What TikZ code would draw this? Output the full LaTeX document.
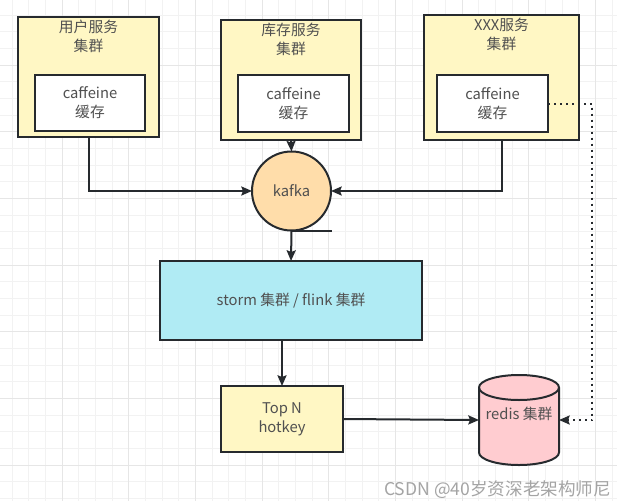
\documentclass[tikz,border=0pt]{standalone}
\usepackage{fontspec}
\setmainfont{Noto Sans CJK SC}
\usetikzlibrary{arrows.meta}
\definecolor{edge}{HTML}{262A2E}
\definecolor{txt}{HTML}{505050}
\definecolor{clusterfill}{HTML}{FFF7C4}
\definecolor{kafkafill}{HTML}{FFDDAA}
\definecolor{stormfill}{HTML}{B0EBF4}
\definecolor{redisfill}{HTML}{FFCCD0}
\definecolor{minorgrid}{HTML}{F2F2F2}
\definecolor{majorgrid}{HTML}{E6E6E6}
\definecolor{wmgrey}{HTML}{A4A4A4}
\tikzset{
    every node/.style={font=\fontsize{12.6}{16.2}\selectfont,text=txt},
    box/.style={draw=edge,line width=0.06cm,inner sep=0pt,outer sep=0pt,align=center},
    title/.style={anchor=north,align=center,inner sep=0pt},
    link/.style={draw=edge,line width=0.06cm},
    arr/.style={link,-{Stealth[length=0.32cm,width=0.27cm,inset=0.05cm]}},
    dotarr/.style={arr,dash pattern=on 0.06cm off 0.12cm}
}
\begin{document}
\begin{tikzpicture}[x=0.03cm,y=-0.03cm]
    \useasboundingbox (0,0) rectangle (617,501);
    \fill[white] (0,0) rectangle (617,501);
    \foreach \gx in {0,...,36} \draw[minorgrid,line width=0.03cm] ({12.3+16.667*\gx},0) -- ({12.3+16.667*\gx},501);
    \foreach \gy in {0,...,29} \draw[minorgrid,line width=0.03cm] (0,{15+16.667*\gy}) -- (617,{15+16.667*\gy});
    \foreach \gx in {0,...,8} \draw[majorgrid,line width=0.03cm] ({62.3+66.667*\gx},0) -- ({62.3+66.667*\gx},501);
    \foreach \gy in {0,...,6} \draw[majorgrid,line width=0.03cm] (0,{65+66.667*\gy}) -- (617,{65+66.667*\gy});

    \node[box,fill=clusterfill,minimum width=4.23cm,minimum height=3.6cm] (usercluster) at (88.5,77) {};
    \node[title] (usertitle) at ([yshift=-0.08cm]usercluster.north) {用户服务\\集群};
    \node[box,fill=white,minimum width=3.3cm,minimum height=1.68cm] (usercache) at (90,103) {caffeine\\缓存};

    \node[box,fill=clusterfill,minimum width=4.2cm,minimum height=3.6cm] (stockcluster) at (291,80) {};
    \node[title] (stocktitle) at ([yshift=-0.08cm]stockcluster.north) {库存服务\\集群};
    \node[box,fill=white,minimum width=3.33cm,minimum height=1.71cm] (stockcache) at (293.5,103.5) {caffeine\\缓存};

    \node[box,fill=clusterfill,minimum width=4.65cm,minimum height=3.75cm] (xxxcluster) at (501.5,77.5) {};
    \node[title] (xxxtitle) at ([yshift=-0.08cm]xxxcluster.north) {XXX服务\\集群};
    \node[box,fill=white,minimum width=3.33cm,minimum height=1.71cm] (xxxcache) at (492.5,103.5) {caffeine\\缓存};

    \node[box,circle,fill=kafkafill,minimum size=2.37cm] (kafka) at (291.5,191) {kafka};
    \node[box,fill=stormfill,minimum width=7.86cm,minimum height=2.37cm] (storm) at (291,300.5) {storm 集群 / flink 集群};
    \node[box,fill=clusterfill,minimum width=3.66cm,minimum height=1.98cm] (topn) at (282,419) {Top N\\hotkey};

    \node[inner sep=0pt,outer sep=0pt,minimum width=2.4cm,minimum height=2.7cm] (redis) at (519,420) {};
    \path[link,fill=redisfill] ([yshift=-0.375cm]redis.north west) -- ([yshift=0.375cm]redis.south west)
        arc[start angle=180,end angle=360,x radius=1.2cm,y radius=0.375cm]
        -- ([yshift=-0.375cm]redis.north east)
        arc[start angle=0,end angle=180,x radius=1.2cm,y radius=0.375cm] -- cycle;
    \draw[link] ([yshift=-0.375cm]redis.north west) arc[start angle=180,end angle=360,x radius=1.2cm,y radius=0.375cm];
    \node (redislabel) at (519,414) {redis 集群};

    \draw[arr] (usercluster.south) |- (kafka.west);
    \draw[arr] (stockcluster.south) -- (kafka.north);
    \draw[arr] (xxxcluster.south) |- (kafka.east);
    \draw[link] (kafka.south) -- ++(40.5,0);
    \draw[arr] (kafka.south) -- (storm.north);
    \draw[arr] (storm.south -| topn.north) -- (topn.north);
    \draw[arr] (topn.east) -- (redis.west);
    \draw[dotarr] (xxxcache.east) -- ++(44,0) |- (redis.east);

    \node[anchor=west,inner sep=0pt,font=\fontsize{15}{18}\selectfont,text=wmgrey] (watermark) at (384,490) {CSDN @40岁资深老架构师尼};
\end{tikzpicture}
\end{document}
